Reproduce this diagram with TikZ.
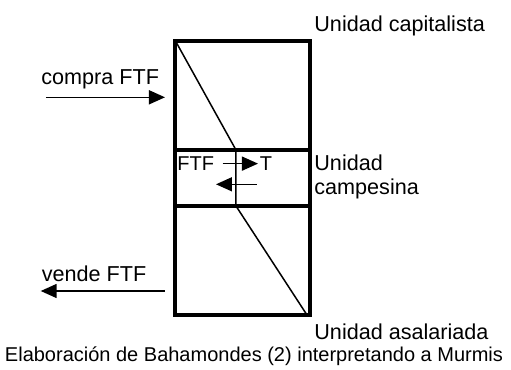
\documentclass[tikz,border=0pt]{standalone}
\usepackage{fontspec}
\setmainfont{Liberation Sans}
\usetikzlibrary{positioning,arrows.meta}

\begin{document}
\begin{tikzpicture}[x=0.5pt, y=-0.5pt,
	unitbox/.style={rectangle, draw, line width=2pt, minimum width=67.5pt, outer sep=0pt, inner sep=0pt},
	tag/.style={font=\fontsize{10.8}{12}\selectfont, inner sep=0pt, align=left},
	small/.style={font=\fontsize{10}{11}\selectfont, inner sep=0pt},
	flow/.style={-{Triangle[length=8pt,width=7pt]}, line width=0.75pt}]
					\useasboundingbox (0,0) rectangle (511,370);
					% the three units, one on top of the other
					\node (capital) [unitbox, minimum height=54.5pt, anchor=north west] at (175.5,41) {};
					\node (campesina) [unitbox, minimum height=28pt, below=0pt of capital] {};
					\node (asalariada) [unitbox, minimum height=54.5pt, below=0pt of campesina] {};
					
					\coordinate (kneeup) at ([xshift=30.25pt]campesina.north west);
					\coordinate (kneedown) at ([xshift=30.25pt]campesina.south west);
					\draw[line width=0.75pt] (capital.north west) -- (kneeup) -- (kneedown) -- ([xshift=-1.75pt]asalariada.south east);
					
					% names of the units
					\node (capname) [tag, anchor=base west] at (314,31) {Unidad capitalista};
					\node (campname) [tag, anchor=base west] at (314,194) {Unidad\\campesina};
					\node (asalname) [tag, anchor=base west] at (314,339) {Unidad asalariada};
					
					% exchange inside the peasant unit
					\node (ftf) [small, anchor=base west] at (177,170.5) {FTF};
					\node (tt) [small, anchor=base west] at (259.6,170.5) {T};
					\path[flow] (ftf) edge [shorten <=4.1pt, shorten >=0.8pt] (tt);
					\coordinate (backtail) at (257,184.3);
					\coordinate (backtip) at (216,184.3);
					\path[flow] (backtail) edge (backtip);
					
					% labour force bought and sold
					\node (buylabel) [tag, anchor=base west] at (41,84.3) {compra FTF};
					\coordinate (buy) at (46,97.3);
					\path[flow] (buy) edge [shorten >=5.25pt] (buy -| capital.west);
					
					\node (selllabel) [tag, anchor=base west] at (41.5,281.7) {vende FTF};
					\coordinate (sell) at (40.7,291);
					\path[flow] (sell -| asalariada.west) edge [shorten <=5.25pt] (sell);
					
					\node (source) [font=\fontsize{10}{12}\selectfont, inner sep=0pt, anchor=base] at (254,361.5) {Elaboración de Bahamondes (2) interpretando a Murmis};
				\end{tikzpicture}
\end{document}
